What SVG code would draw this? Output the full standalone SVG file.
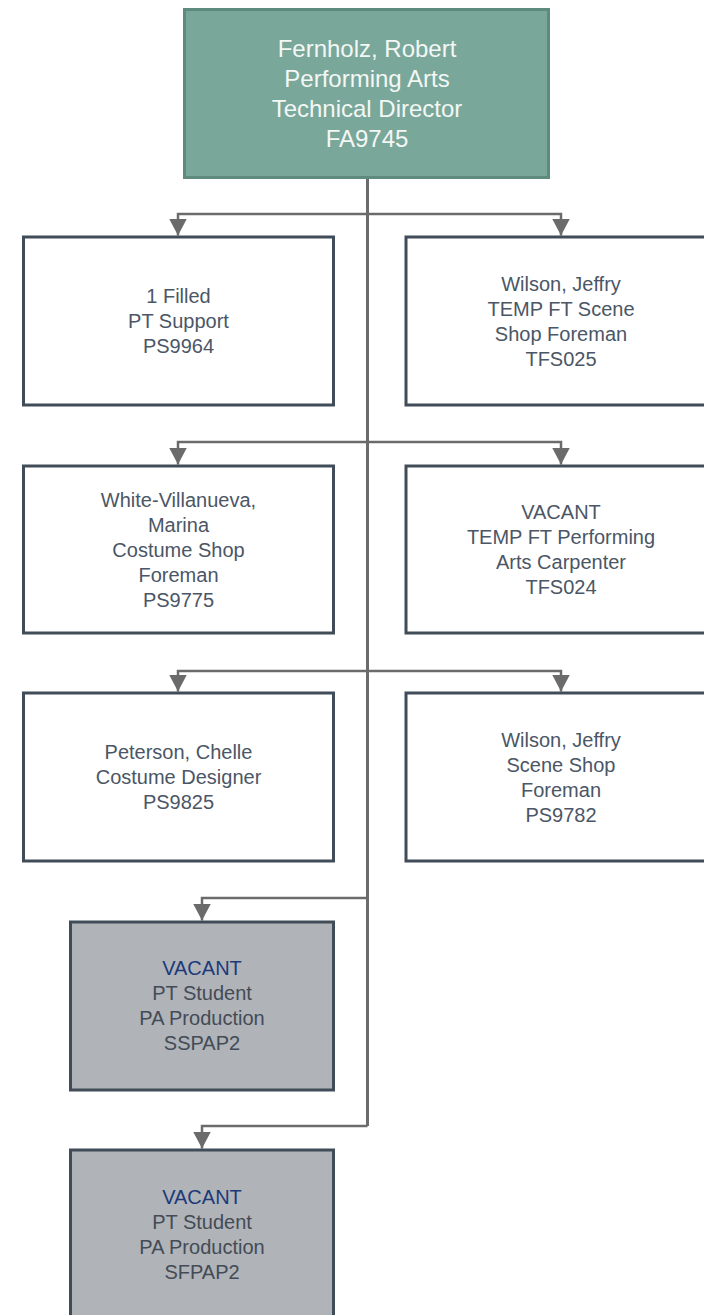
<svg xmlns="http://www.w3.org/2000/svg" width="704" height="1315" viewBox="0 0 704 1315">
<style>
  .box{fill:#ffffff;stroke:#414c59;stroke-width:3}
  .vac{fill:#b0b3b8;stroke:#414c59;stroke-width:3}
  .top{fill:#79a79a;stroke:#5f8b7e;stroke-width:3}
  .t{font-family:"Liberation Sans",Arial,sans-serif;font-size:20px;fill:#4b5666;text-anchor:middle}
  .tv{font-family:"Liberation Sans",Arial,sans-serif;font-size:20px;fill:#434b56;text-anchor:middle}
  .tn{fill:#1c3a7a}
  .tt{font-family:"Liberation Sans",Arial,sans-serif;font-size:24px;fill:#f3f7f5;text-anchor:middle}
  .c{fill:none;stroke:#6b6b6b;stroke-width:2.5}
  .trunk{fill:none;stroke:#6b6b6b;stroke-width:3}
</style>
<defs>
  <marker id="arr" markerUnits="userSpaceOnUse" markerWidth="18" markerHeight="18" refX="17" refY="9" orient="auto" viewBox="0 0 18 18">
    <path d="M0,0 L17,9 L0,18 Z" fill="#6b6b6b"/>
  </marker>
</defs>
<rect width="704" height="1315" fill="#ffffff"/>
<g id="connectors">
  <path class="trunk" d="M367.5,178 V1126"/>
  <path class="c" marker-end="url(#arr)" d="M367.5,214 H178 V235.5"/>
  <path class="c" marker-end="url(#arr)" d="M367.5,214 H561 V235.5"/>
  <path class="c" marker-end="url(#arr)" d="M367.5,442 H178 V464.5"/>
  <path class="c" marker-end="url(#arr)" d="M367.5,442 H561 V464.5"/>
  <path class="c" marker-end="url(#arr)" d="M367.5,671 H178 V691.5"/>
  <path class="c" marker-end="url(#arr)" d="M367.5,671 H561 V691.5"/>
  <path class="c" marker-end="url(#arr)" d="M367.5,898 H202 V920.5"/>
  <path class="c" marker-end="url(#arr)" d="M367.5,1126 H202 V1148.5"/>
</g>
<g id="n-fernholz">
  <rect class="top" x="184.5" y="9.5" width="364" height="168"/>
  <text class="tt" x="367" y="56.6">Fernholz, Robert</text>
  <text class="tt" x="367" y="86.6">Performing Arts</text>
  <text class="tt" x="367" y="116.6">Technical Director</text>
  <text class="tt" x="367" y="146.6">FA9745</text>
</g>
<g id="n-ps9964">
  <rect class="box" x="23.5" y="237" width="310" height="168"/>
  <text class="t" x="178.5" y="303.2">1 Filled</text>
  <text class="t" x="178.5" y="328.2">PT Support</text>
  <text class="t" x="178.5" y="353.2">PS9964</text>
</g>
<g id="n-tfs025">
  <rect class="box" x="406" y="237" width="310" height="168"/>
  <text class="t" x="561" y="290.7">Wilson, Jeffry</text>
  <text class="t" x="561" y="315.7">TEMP FT Scene</text>
  <text class="t" x="561" y="340.7">Shop Foreman</text>
  <text class="t" x="561" y="365.7">TFS025</text>
</g>
<g id="n-ps9775">
  <rect class="box" x="23.5" y="466" width="310" height="167"/>
  <text class="t" x="178.5" y="506.7">White-Villanueva,</text>
  <text class="t" x="178.5" y="531.7">Marina</text>
  <text class="t" x="178.5" y="556.7">Costume Shop</text>
  <text class="t" x="178.5" y="581.7">Foreman</text>
  <text class="t" x="178.5" y="606.7">PS9775</text>
</g>
<g id="n-tfs024">
  <rect class="box" x="406" y="466" width="310" height="167"/>
  <text class="t" x="561" y="519.2">VACANT</text>
  <text class="t" x="561" y="544.2">TEMP FT Performing</text>
  <text class="t" x="561" y="569.2">Arts Carpenter</text>
  <text class="t" x="561" y="594.2">TFS024</text>
</g>
<g id="n-ps9825">
  <rect class="box" x="23.5" y="693" width="310" height="168"/>
  <text class="t" x="178.5" y="759.2">Peterson, Chelle</text>
  <text class="t" x="178.5" y="784.2">Costume Designer</text>
  <text class="t" x="178.5" y="809.2">PS9825</text>
</g>
<g id="n-ps9782">
  <rect class="box" x="406" y="693" width="310" height="168"/>
  <text class="t" x="561" y="746.7">Wilson, Jeffry</text>
  <text class="t" x="561" y="771.7">Scene Shop</text>
  <text class="t" x="561" y="796.7">Foreman</text>
  <text class="t" x="561" y="821.7">PS9782</text>
</g>
<g id="n-sspap2">
  <rect class="vac" x="70.5" y="922" width="263" height="168"/>
  <text class="tv tn" x="202" y="975.2">VACANT</text>
  <text class="tv" x="202" y="1000.2">PT Student</text>
  <text class="tv" x="202" y="1025.2">PA Production</text>
  <text class="tv" x="202" y="1050.2">SSPAP2</text>
</g>
<g id="n-sfpap2">
  <rect class="vac" x="70.5" y="1150" width="263" height="168"/>
  <text class="tv tn" x="202" y="1203.7">VACANT</text>
  <text class="tv" x="202" y="1228.7">PT Student</text>
  <text class="tv" x="202" y="1253.7">PA Production</text>
  <text class="tv" x="202" y="1278.7">SFPAP2</text>
</g>
</svg>
